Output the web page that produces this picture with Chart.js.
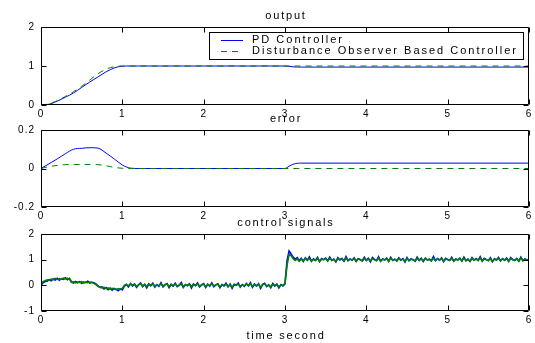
<!DOCTYPE html>
<html><head><meta charset="utf-8">
<script src="https://cdn.jsdelivr.net/npm/chart.js@4"></script>
<style>
html,body{margin:0;padding:0;background:#fff;}
#wrap{position:relative;width:535px;height:343px;background:#fff;}
canvas{position:absolute;left:0;top:0;}
</style></head><body>
<div id="wrap">
<canvas id="c1" width="535" height="343"></canvas>
<canvas id="c2" width="535" height="343"></canvas>
<canvas id="c3" width="535" height="343"></canvas>
</div>
<script>
// ---------- data ----------
const seriesNames = ['PD Controller', 'Disturbance Observer Based Controller'];
const plotTitles = ['output', 'error', 'control signals'];
const xAxisTitle = 'time second';
const xTicks = [0, 1, 2, 3, 4, 5, 6];
const yTicksOutput = [0, 1, 2];
const yTicksError = [-0.2, 0, 0.2];
const yTicksControl = [-1, 0, 1, 2];

const tOutput = [0, 0.1, 0.2, 0.3, 0.4, 0.5, 0.6, 0.7, 0.8, 0.9, 1.0, 1.1, 1.2, 3.0, 3.05, 3.1, 3.15, 3.2, 6.0];
const pdOutput = [0, 0.02, 0.1, 0.2, 0.31, 0.45, 0.59, 0.72, 0.85, 0.95, 0.995, 1.0, 1.0, 1.0, 0.99, 0.978, 0.973, 0.972, 0.972];
const dobOutput = [0, 0.03, 0.11, 0.22, 0.34, 0.48, 0.64, 0.8, 0.92, 0.98, 1.0, 1.0, 1.0, 1.0, 1.0, 1.0, 1.0, 1.0, 1.0];

const tError = [0, 0.1, 0.2, 0.3, 0.4, 0.5, 0.6, 0.7, 0.8, 0.9, 1.0, 1.05, 1.1, 1.2, 3.0, 3.05, 3.1, 3.15, 3.2, 6.0];
const pdError = [0, 0.025, 0.05, 0.077, 0.1, 0.105, 0.108, 0.106, 0.08, 0.05, 0.018, 0.008, 0.002, 0, 0, 0.012, 0.022, 0.027, 0.028, 0.028];
const dobError = [0, 0.01, 0.016, 0.02, 0.021, 0.021, 0.021, 0.02, 0.014, 0.006, 0.001, 0, 0, 0, 0, 0, 0, 0, 0, 0];

const controlStep = 0.025;
const pdControl = [
0.00, 0.10, 0.15, 0.16, 0.22, 0.18, 0.25, 0.21, 0.27, 0.20, 0.26, 0.23, 0.29, 0.22, 0.27, 0.13, 0.09, 0.15, 0.10, 0.14,
0.08, 0.13, 0.11, 0.16, 0.09, 0.12, 0.10, 0.06, -0.02, -0.08, -0.06, -0.14, -0.09, -0.17, -0.11, -0.19, -0.12, -0.16, -0.21, -0.13,
-0.18, -0.03, 0.04, -0.06, 0.07, -0.03, 0.05, -0.08, 0.02, 0.09, -0.05, 0.04, -0.10, 0.06, -0.02, 0.08, -0.07, 0.03, -0.04, 0.10,
-0.06, 0.02, 0.07, -0.09, 0.04, -0.03, 0.08, -0.05, 0.01, 0.11, -0.08, 0.03, -0.02, 0.06, -0.10, 0.05, -0.01, 0.09, -0.06, 0.02,
0.07, -0.08, 0.04, -0.03, 0.10, -0.05, 0.02, 0.06, -0.09, 0.03, -0.02, 0.08, -0.06, 0.05, -0.11, 0.04, 0.01, 0.09, -0.07, 0.03,
-0.04, 0.07, -0.02, 0.10, -0.08, 0.05, -0.03, 0.06, -0.12, 0.04, 0.08, -0.05, 0.02, -0.09, 0.07, -0.03, 0.05, -0.10, 0.03, -0.02,
0.08, 0.95, 1.34, 1.22, 1.10, 1.02, 1.08, 0.96, 1.05, 0.93, 1.07, 0.98, 1.11, 0.94, 1.03, 0.97, 1.09, 0.92, 1.04, 1.00,
1.06, 0.95, 1.10, 0.97, 1.02, 0.91, 1.08, 0.99, 1.05, 0.94, 1.12, 0.96, 1.03, 0.98, 1.07, 0.93, 1.04, 1.01, 0.95, 1.09,
0.97, 1.05, 0.92, 1.08, 1.00, 0.96, 1.11, 0.94, 1.03, 0.99, 1.06, 0.93, 1.09, 0.97, 1.02, 0.95, 1.07, 0.98, 1.04, 0.91,
1.08, 0.96, 1.03, 1.00, 0.94, 1.10, 0.97, 1.05, 0.93, 1.06, 0.99, 1.02, 0.95, 1.12, 0.96, 1.04, 0.98, 1.07, 0.92, 1.05,
1.01, 0.97, 1.09, 0.94, 1.03, 0.99, 1.06, 0.95, 1.10, 0.96, 1.02, 0.93, 1.08, 0.98, 1.04, 0.97, 1.11, 0.94, 1.05, 1.00,
0.96, 1.07, 0.92, 1.03, 0.99, 1.09, 0.95, 1.04, 0.98, 1.06, 0.93, 1.08, 1.00, 0.97, 1.05, 0.94, 1.10, 0.96, 1.03, 0.99, 1.02
];
const dobControl = [
0.05, 0.14, 0.18, 0.21, 0.19, 0.24, 0.22, 0.27, 0.23, 0.26, 0.24, 0.28, 0.25, 0.27, 0.24, 0.12, 0.14, 0.10, 0.13, 0.11,
0.14, 0.09, 0.12, 0.10, 0.13, 0.11, 0.08, 0.03, -0.04, -0.07, -0.10, -0.08, -0.13, -0.10, -0.15, -0.12, -0.14, -0.17, -0.13, -0.16,
-0.12, 0.00, 0.03, -0.02, 0.05, 0.00, 0.04, -0.04, 0.02, 0.06, -0.03, 0.03, -0.05, 0.04, 0.00, 0.05, -0.04, 0.02, -0.02, 0.06,
-0.03, 0.03, 0.05, -0.05, 0.02, -0.02, 0.06, -0.03, 0.01, 0.05, -0.06, 0.02, 0.00, 0.04, -0.05, 0.03, -0.01, 0.06, -0.04, 0.02,
0.04, -0.05, 0.03, -0.01, 0.06, -0.03, 0.02, 0.04, -0.06, 0.01, -0.02, 0.05, -0.04, 0.03, -0.07, 0.02, 0.00, 0.05, -0.04, 0.02,
-0.02, 0.05, -0.01, 0.06, -0.05, 0.03, -0.02, 0.04, -0.07, 0.02, 0.05, -0.03, 0.01, -0.06, 0.04, -0.02, 0.03, -0.06, 0.02, -0.01,
0.05, 0.78, 1.20, 1.16, 1.04, 0.97, 1.03, 0.94, 1.02, 0.96, 1.05, 0.98, 1.04, 0.95, 1.01, 0.97, 1.05, 0.94, 1.02, 1.00,
1.04, 0.96, 1.05, 0.98, 1.01, 0.94, 1.04, 0.99, 1.03, 0.95, 1.06, 0.97, 1.02, 0.98, 1.04, 0.95, 1.03, 1.00, 0.96, 1.05,
0.98, 1.03, 0.95, 1.04, 1.00, 0.97, 1.06, 0.95, 1.02, 0.99, 1.04, 0.94, 1.05, 0.98, 1.01, 0.96, 1.04, 0.99, 1.02, 0.94,
1.05, 0.97, 1.02, 1.00, 0.95, 1.06, 0.98, 1.03, 0.95, 1.04, 0.99, 1.01, 0.96, 1.06, 0.97, 1.03, 0.99, 1.05, 0.94, 1.03,
1.00, 0.97, 1.05, 0.95, 1.02, 0.99, 1.04, 0.96, 1.06, 0.97, 1.01, 0.94, 1.05, 0.98, 1.03, 0.97, 1.06, 0.95, 1.03, 1.00,
0.97, 1.04, 0.94, 1.02, 0.99, 1.05, 0.96, 1.03, 0.98, 1.04, 0.95, 1.05, 1.00, 0.97, 1.03, 0.95, 1.06, 0.97, 1.02, 0.99, 1.01
];

// ---------- drawing ----------
const FONT = "'Liberation Sans', Arial, sans-serif";
const BLUE = '#0000ff';
const GREEN = '#008000';
const DASH = [6, 5];
Chart.defaults.color = '#000';
Chart.defaults.font.family = FONT;

const toXY = (xs, ys) => ys.map((v, i) => ({x: xs[i], y: v}));
const toStepXY = (ys, dt) => ys.map((v, i) => ({x: i * dt, y: v}));

const framePlugin = {
  id: 'frame',
  beforeDraw(chart) { chart.ctx.letterSpacing = '1px'; },
  afterDatasetsDraw(chart, args, opts) {
    const {ctx, chartArea: a, scales: {x, y}} = chart;
    ctx.save();
    ctx.strokeStyle = '#000';
    ctx.lineWidth = 1;
    const L = Math.round(a.left) + 0.5, R = Math.round(a.right) - 0.5;
    const T = Math.round(a.top) + 0.5, B = Math.round(a.bottom) - 0.5;
    ctx.beginPath();
    ctx.rect(L, T, R - L, B - T);
    const tl = 5;
    x.ticks.forEach(t => {
      const px = Math.round(x.getPixelForValue(t.value)) + 0.5;
      ctx.moveTo(px, B); ctx.lineTo(px, B - tl);
      ctx.moveTo(px, T); ctx.lineTo(px, T + tl);
    });
    y.ticks.forEach(t => {
      const py = Math.round(y.getPixelForValue(t.value)) + 0.5;
      ctx.moveTo(L, py); ctx.lineTo(L + tl, py);
      ctx.moveTo(R, py); ctx.lineTo(R - tl, py);
    });
    ctx.stroke();
    // title
    ctx.letterSpacing = '1.8px';
    ctx.fillStyle = '#000';
    ctx.font = '11px ' + FONT;
    ctx.textAlign = 'center';
    ctx.textBaseline = 'middle';
    ctx.fillText(opts.title, (a.left + a.right) / 2 + 1, a.top - 11);
    if (opts.xTitle) {
      ctx.fillText(opts.xTitle, (a.left + a.right) / 2 + 1, a.bottom + 25);
    }
    // legend
    if (opts.legend) {
      const lg = opts.legend;
      ctx.fillStyle = '#fff';
      ctx.fillRect(lg.x, lg.y, lg.w, lg.h);
      ctx.strokeStyle = '#000';
      ctx.strokeRect(lg.x + 0.5, lg.y + 0.5, lg.w - 1, lg.h - 1);
      ctx.letterSpacing = '2px';
      ctx.textAlign = 'left';
      chart.data.datasets.forEach((ds, i) => {
        const yy = lg.y + lg.rowY[i];
        ctx.strokeStyle = ds.borderColor;
        ctx.setLineDash(ds.borderDash || []);
        ctx.beginPath();
        ctx.moveTo(lg.x + 12, yy + 0.5); ctx.lineTo(lg.x + 34, yy + 0.5);
        ctx.stroke();
        ctx.setLineDash([]);
        ctx.fillStyle = '#000';
        ctx.fillText(ds.label, lg.x + 43, yy);
      });
    }
    ctx.restore();
  }
};

function makeChart(id, datasets, cfg) {
  return new Chart(document.getElementById(id), {
    type: 'line',
    data: {datasets},
    options: {
      responsive: false, animation: false, devicePixelRatio: 1,
      layout: {padding: {left: 0, right: 6, top: cfg.top, bottom: cfg.bottom}},
      plugins: {legend: {display: false}, tooltip: {enabled: false},
        frame: {title: cfg.title, legend: cfg.legend || null, xTitle: cfg.xTitle || null}},
      elements: {point: {radius: 0}, line: {borderWidth: 1}},
      scales: {
        x: {
          type: 'linear', min: 0, max: 6,
          grid: {display: false, drawTicks: false}, border: {display: false},
          afterBuildTicks: s => { s.ticks = xTicks.map(v => ({value: v})); },
          afterFit: s => { s.height = cfg.xHeight; },
          ticks: {padding: 3, font: {size: 10, family: FONT}, color: '#000', maxRotation: 0, autoSkip: false}
        },
        y: {
          type: 'linear', min: cfg.yMin, max: cfg.yMax,
          grid: {display: false, drawTicks: false}, border: {display: false},
          afterBuildTicks: s => { s.ticks = cfg.yTicks.map(v => ({value: v})); },
          afterFit: s => { s.width = 41; },
          ticks: {padding: 6, font: {size: 10, family: FONT}, color: '#000', autoSkip: false}
        }
      }
    },
    plugins: [framePlugin]
  });
}

const smooth = {cubicInterpolationMode: 'monotone'};

makeChart('c1', [
  Object.assign({label: seriesNames[0], data: toXY(tOutput, pdOutput), borderColor: BLUE, order: 1}, smooth),
  Object.assign({label: seriesNames[1], data: toXY(tOutput, dobOutput), borderColor: GREEN, borderDash: DASH, order: 0}, smooth)
], {top: 27, bottom: 224, xHeight: 14, yMin: 0, yMax: 2, yTicks: yTicksOutput, title: plotTitles[0],
    legend: {x: 209, y: 32, w: 315, h: 28, rowY: [8, 19]}});

makeChart('c2', [
  Object.assign({label: seriesNames[0], data: toXY(tError, pdError), borderColor: BLUE, order: 1}, smooth),
  Object.assign({label: seriesNames[1], data: toXY(tError, dobError), borderColor: GREEN, borderDash: DASH, order: 0}, smooth)
], {top: 130, bottom: 122, xHeight: 14, yMin: -0.2, yMax: 0.2, yTicks: yTicksError, title: plotTitles[1]});

makeChart('c3', [
  {label: seriesNames[0], data: toStepXY(pdControl, controlStep), borderColor: BLUE, borderWidth: 1.6, order: 1},
  {label: seriesNames[1], data: toStepXY(dobControl, controlStep), borderColor: GREEN, borderWidth: 1.6, order: 0}
], {top: 234, bottom: 18, xHeight: 14, yMin: -1, yMax: 2, yTicks: yTicksControl, title: plotTitles[2], xTitle: xAxisTitle});
</script>
</body></html>
